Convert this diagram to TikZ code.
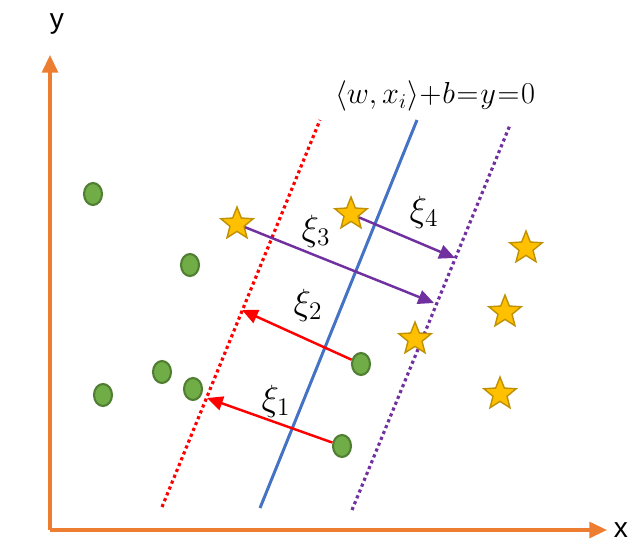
\documentclass[tikz,border=0pt]{standalone}
\usepackage{fontspec}
\setmainfont{Liberation Serif}
\newfontfamily\axisfont{Liberation Sans}
\usetikzlibrary{arrows.meta,shapes.geometric}

\definecolor{axisorange}{HTML}{ED7D31}
\definecolor{hyperblue}{HTML}{4472C4}
\definecolor{marginpurple}{HTML}{7030A0}
\definecolor{dotgreen}{HTML}{70AD47}
\definecolor{dotgreenline}{HTML}{507E32}
\definecolor{stargold}{HTML}{FFC000}
\definecolor{stargoldline}{HTML}{BF9000}

\begin{document}
\begin{tikzpicture}[
  x=0.02cm, y=-0.02cm,
  dot/.style={ellipse, draw=dotgreenline, fill=dotgreen, line width=1.2pt,
              minimum width=0.36cm, minimum height=0.44cm, inner sep=0pt},
  starpt/.style={star, star points=5, star point ratio=2.3, draw=stargoldline,
                 fill=stargold, line width=0.8pt, minimum size=0.68cm, inner sep=0pt},
  axis/.style={draw=axisorange, line width=1.8pt, -{Triangle[length=10pt,width=9pt]}},
  slack/.style={line width=1.4pt, -{Triangle[length=9pt,width=8pt]}},
  margin/.style={line width=1.8pt, dash pattern=on 1.8pt off 1.8pt},
  lbl/.style={font=\fontsize{20}{22}\selectfont}
]
  \useasboundingbox (0,0) rectangle (638,541);

  % axes
  \coordinate (o) at (50,530);
  \coordinate (ytip) at (50,55);
  \coordinate (xtip) at (607,530);
  \draw[axis] (o) -- (ytip);
  \draw[axis] (o) -- (xtip);
  \node[font=\axisfont\fontsize{16}{18}\selectfont] (ylab) at (57,24) {y};
  \node[font=\axisfont\fontsize{16}{18}\selectfont, inner sep=1pt] (xlab) at (621,530) {x};

  % hyperplane and margins
  \coordinate (rbot) at (162,507);
  \coordinate (rtop) at (320,120);
  \coordinate (bbot) at (260,508);
  \coordinate (btop) at (417,120);
  \coordinate (pbot) at (352,510);
  \coordinate (ptop) at (510,125);
  \draw[margin, red] (rbot) -- (rtop);
  \draw[hyperblue, line width=1.7pt] (bbot) -- (btop);
  \draw[margin, marginpurple] (pbot) -- (ptop);
  \node[font=\fontsize{16.5}{20}\selectfont] (eq) at (435,96)
    {\medmuskip=0.5mu \thickmuskip=1mu $\left\langle w,x_i\right\rangle + b = y = 0$};

  % class -1
  \node[dot] (c1) at (93,194) {};
  \node[dot] (c2) at (190,265) {};
  \node[dot] (c3) at (103,395) {};
  \node[dot] (c4) at (162,372) {};
  \node[dot] (c5) at (193,389) {};
  \node[dot] (c6) at (361,364) {};
  \node[dot] (c7) at (342,446) {};

  % class +1
  \node[starpt] (s1) at (237,224) {};
  \node[starpt] (s2) at (351,214) {};
  \node[starpt] (s3) at (526,248) {};
  \node[starpt] (s4) at (505,312) {};
  \node[starpt] (s5) at (415,339) {};
  \node[starpt] (s6) at (500,394) {};

  % slack arrows
  \coordinate (e1) at (207,398);
  \coordinate (e2) at (242,310);
  \coordinate (e3) at (434,303);
  \coordinate (e4) at (455,258);
  \draw[slack, red] (c7) -- (e1);
  \draw[slack, red] (c6) -- (e2);
  \draw[slack, marginpurple] (s1) -- (e3);
  \draw[slack, marginpurple] (s2) -- (e4);
  \node[lbl] (xi1) at (276,401) {$\xi_1$};
  \node[lbl] (xi2) at (308,305) {$\xi_2$};
  \node[lbl] (xi3) at (316,231) {$\xi_3$};
  \node[lbl] (xi4) at (424,212) {$\xi_4$};
\end{tikzpicture}
\end{document}
